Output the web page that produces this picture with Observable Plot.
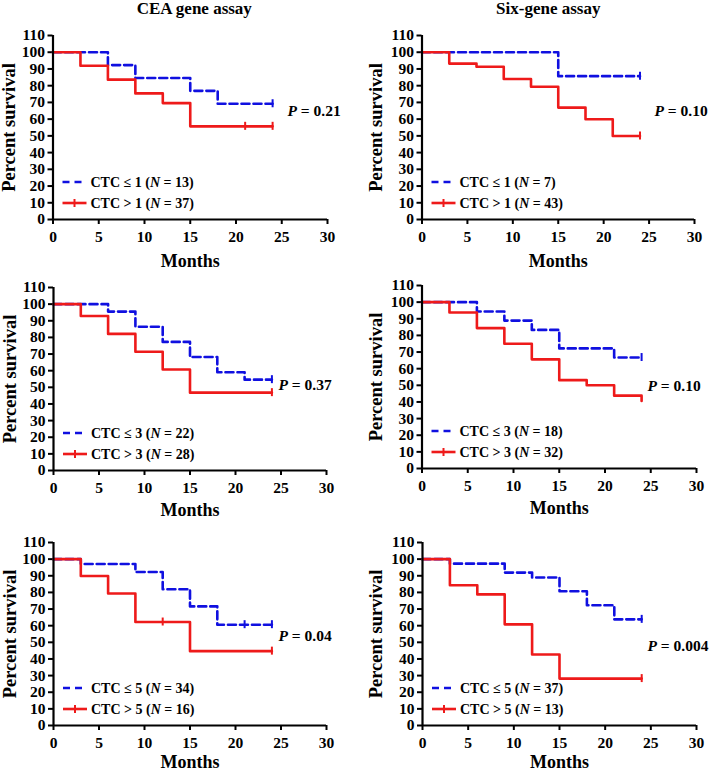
<!DOCTYPE html>
<html><head><meta charset="utf-8">
<script src="https://cdn.jsdelivr.net/npm/d3@7"></script>
<script src="https://cdn.jsdelivr.net/npm/@observablehq/plot@0.6"></script>
<style>
body{margin:0;background:#fff;}
#chart{position:relative;width:709px;height:772px;overflow:hidden;background:#fff;}
.panel{position:absolute;}
.panel svg{overflow:visible;}
g[aria-label="x-axis tick"], g[aria-label="y-axis tick"]{stroke-width:2px;}
g[aria-label="x-axis"] .tick line, g[aria-label="y-axis"] .tick line{stroke-width:2px;}
</style></head><body><div id="chart"></div>
<script>
// ---------- tick labels / categories ----------
const xTicks = [0, 5, 10, 15, 20, 25, 30];
const yTicks = [0, 10, 20, 30, 40, 50, 60, 70, 80, 90, 100, 110];
const assays = ["CEA gene assay", "Six-gene assay"];
const cutoffs = [1, 3, 5];
const pValues = ["0.21", "0.10", "0.37", "0.10", "0.04", "0.004"];
const nLow  = [13, 7, 22, 18, 34, 37];
const nHigh = [37, 43, 28, 32, 16, 13];

// ---------- Kaplan–Meier curves (months, percent survival, censored months) ----------
// CEA, cutoff 1
const ceaLow1Months = [0, 6, 9, 15, 18, 24];
const ceaLow1Surv   = [100, 92.3, 84.6, 76.9, 69.2, 69.2];
const ceaLow1Cens   = [24];
const ceaHigh1Months = [0, 3, 6, 9, 12, 15, 24];
const ceaHigh1Surv   = [100, 91.9, 83.6, 75.4, 69.6, 55.7, 55.7];
const ceaHigh1Cens   = [21, 24];
// Six-gene, cutoff 1
const sixLow1Months = [0, 15, 24];
const sixLow1Surv   = [100, 85.7, 85.7];
const sixLow1Cens   = [24];
const sixHigh1Months = [0, 3, 6, 9, 12, 15, 18, 21, 24];
const sixHigh1Surv   = [100, 93.2, 91.3, 84, 79.4, 66.9, 59.9, 49.9, 49.9];
const sixHigh1Cens   = [24];
// CEA, cutoff 3
const ceaLow3Months = [0, 6, 9, 12, 15, 18, 21, 24];
const ceaLow3Surv   = [100, 95.5, 86.4, 77.3, 68.2, 59.1, 54.6, 54.6];
const ceaLow3Cens   = [24];
const ceaHigh3Months = [0, 3, 6, 9, 12, 15, 24];
const ceaHigh3Surv   = [100, 92.9, 82.1, 71.4, 60.7, 46.8, 46.8];
const ceaHigh3Cens   = [24];
// Six-gene, cutoff 3
const sixLow3Months = [0, 6, 9, 12, 15, 21, 24];
const sixLow3Surv   = [100, 94.4, 88.9, 83.3, 72.2, 66.7, 66.7];
const sixLow3Cens   = [24];
const sixHigh3Months = [0, 3, 6, 9, 12, 15, 18, 21, 24];
const sixHigh3Surv   = [100, 93.8, 84.4, 75, 65.6, 53.1, 50, 43.8, 40.6];
const sixHigh3Cens   = [];
// CEA, cutoff 5
const ceaLow5Months = [0, 3, 9, 12, 15, 18, 24];
const ceaLow5Surv   = [100, 97.1, 92.3, 81.9, 71.6, 60.6, 60.6];
const ceaLow5Cens   = [21, 24];
const ceaHigh5Months = [0, 3, 6, 9, 15, 24];
const ceaHigh5Surv   = [100, 89.9, 79.3, 62.2, 44.7, 44.7];
const ceaHigh5Cens   = [12, 24];
// Six-gene, cutoff 5
const sixLow5Months = [0, 3, 9, 12, 15, 18, 21, 24];
const sixLow5Surv   = [100, 97.3, 91.9, 89, 80.7, 72.3, 63.8, 63.8];
const sixLow5Cens   = [24];
const sixHigh5Months = [0, 3, 6, 9, 12, 15, 24];
const sixHigh5Surv   = [100, 84.3, 78.8, 60.8, 42.7, 28.2, 28.2];
const sixHigh5Cens   = [24];

const curves = [
  [[ceaLow1Months, ceaLow1Surv, ceaLow1Cens], [ceaHigh1Months, ceaHigh1Surv, ceaHigh1Cens]],
  [[sixLow1Months, sixLow1Surv, sixLow1Cens], [sixHigh1Months, sixHigh1Surv, sixHigh1Cens]],
  [[ceaLow3Months, ceaLow3Surv, ceaLow3Cens], [ceaHigh3Months, ceaHigh3Surv, ceaHigh3Cens]],
  [[sixLow3Months, sixLow3Surv, sixLow3Cens], [sixHigh3Months, sixHigh3Surv, sixHigh3Cens]],
  [[ceaLow5Months, ceaLow5Surv, ceaLow5Cens], [ceaHigh5Months, ceaHigh5Surv, ceaHigh5Cens]],
  [[sixLow5Months, sixLow5Surv, sixLow5Cens], [sixHigh5Months, sixHigh5Surv, sixHigh5Cens]]
];

// ---------- layout (page pixels) ----------
const BLUE = "#1010e0", RED = "#ee1a1a";
const FONT = "'Liberation Serif','Times New Roman',Times,serif";
const colX = [0, 354], colW = [354, 355];
const rowY = [0, 268, 520], rowH = [270, 252, 252];
const frames = [ // L, R, T, B
  [52.5, 327, 35, 219], [421.5, 694, 35, 219],
  [53, 326, 287, 470],  [421.5, 696, 285, 468],
  [53, 326, 542, 725],  [422, 696, 542, 725]
];
const pPos = [[234.5, 76], [232.5, 76], [225, 98], [225.5, 101], [225, 94], [225, 104]];
const yLabelDx = [-43.5, -46];
const monthsDy = [42, 40, 37];
const titleDx = [4, -10];

function survAt(months, surv, t) {
  let v = surv[0];
  months.forEach((m, i) => { if (m <= t) v = surv[i]; });
  return v;
}

const chart = document.getElementById("chart");

for (let i = 0; i < 6; i++) {
  const row = Math.floor(i / 2), col = i % 2;
  const [L, R, T, B] = frames[i];
  const W = colW[col], H = rowH[row];
  const [low, high] = curves[i];
  const toRows = ([m, s]) => m.map((t, k) => ({month: t, surv: s[k]}));
  const toCens = ([m, s, c]) => c.map(t => ({month: t, surv: survAt(m, s, t)}));

  const marks = [
    Plot.line(toRows(low), {x: "month", y: "surv", curve: "step-after", stroke: BLUE, strokeWidth: 2.6, strokeDasharray: "8,4"}),
    Plot.line(toRows(high), {x: "month", y: "surv", curve: "step-after", stroke: RED, strokeWidth: 2.6}),
    Plot.ruleX(toCens(low), {x: "month", y1: d => d.surv - 2.4, y2: d => d.surv + 2.4, stroke: BLUE, strokeWidth: 2}),
    Plot.ruleX(toCens(high), {x: "month", y1: d => d.surv - 2.4, y2: d => d.surv + 2.4, stroke: RED, strokeWidth: 2}),
    Plot.ruleX([0], {strokeWidth: 2.2, stroke: "black"}),
    Plot.ruleY([0], {strokeWidth: 2.2, stroke: "black"}),
    Plot.text(["Percent survival"], {text: d => d, frameAnchor: "left", textAnchor: "middle", rotate: -90, dx: yLabelDx[col], fontSize: 18.5, lineAnchor: "middle", fill: "black"}),
    Plot.text(["Months"], {text: d => d, frameAnchor: "bottom", textAnchor: "middle", dy: monthsDy[row], fontSize: 18, lineAnchor: "middle", fill: "black"}),
    Plot.text([`P = ${pValues[i]}`], {text: d => d, frameAnchor: "top-left", textAnchor: "start", dx: pPos[i][0], dy: pPos[i][1], fontSize: 15.5, lineAnchor: "middle", fill: "black"})
  ];
  if (row === 0) {
    marks.push(Plot.text([assays[col]], {text: d => d, frameAnchor: "top", textAnchor: "middle", dx: titleDx[col], dy: -27, fontSize: 17, lineAnchor: "middle", fill: "black"}));
  }

  const plot = Plot.plot({
    width: W, height: H,
    marginLeft: L - colX[col], marginRight: colX[col] + W - R,
    marginTop: T - rowY[row], marginBottom: rowY[row] + H - B,
    style: {fontFamily: FONT, fontSize: "15.5px", fontWeight: "bold", background: "transparent", color: "black", overflow: "visible"},
    x: {domain: [0, 30], ticks: xTicks, tickSize: 5, tickPadding: 6, label: null},
    y: {domain: [0, 110], ticks: yTicks, tickSize: 5, tickPadding: 3, label: null},
    marks
  });

  // italic P in p-value
  d3.select(plot).selectAll("text").filter(function() { return this.textContent.startsWith("P = "); })
    .each(function() {
      const t = d3.select(this), rest = this.textContent.slice(1);
      t.text(null);
      t.append("tspan").attr("font-style", "italic").text("P");
      t.append("tspan").text(rest);
    });

  // legend
  const lx = L - colX[col], by = B - rowY[row];
  const lg = d3.select(plot).append("g").attr("font-family", FONT).attr("font-weight", "bold")
    .attr("font-size", 14).attr("text-anchor", "start");
  const items = [
    {y: by - 37, color: BLUE, dash: "7,5", sym: "≤", n: nLow[i], tick: false},
    {y: by - 16, color: RED, dash: null, sym: ">", n: nHigh[i], tick: true}
  ];
  items.forEach(it => {
    lg.append("line").attr("x1", lx + 10).attr("x2", lx + 34).attr("y1", it.y).attr("y2", it.y)
      .attr("stroke", it.color).attr("stroke-width", 2.6).attr("stroke-dasharray", it.dash);
    if (it.tick) lg.append("line").attr("x1", lx + 22).attr("x2", lx + 22).attr("y1", it.y - 4).attr("y2", it.y + 4)
      .attr("stroke", it.color).attr("stroke-width", 2);
    const t = lg.append("text").attr("x", lx + 38).attr("y", it.y).attr("dy", "0.35em")
      .attr("fill", "black").attr("text-anchor", "start");
    t.append("tspan").text(`CTC ${it.sym} ${cutoffs[row]} (`);
    t.append("tspan").attr("font-style", "italic").text("N");
    t.append("tspan").text(` = ${it.n})`);
  });

  const div = document.createElement("div");
  div.className = "panel";
  div.style.left = colX[col] + "px";
  div.style.top = rowY[row] + "px";
  div.appendChild(plot);
  chart.appendChild(div);
}
</script></body></html>
